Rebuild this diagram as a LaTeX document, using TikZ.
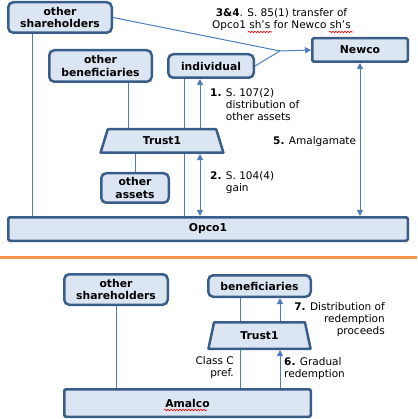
\documentclass[tikz,border=0pt]{standalone}
\usepackage{fontspec}
\setmainfont{DejaVu Sans}
\usetikzlibrary{arrows.meta, positioning, shapes.geometric, decorations.pathmorphing}
\definecolor{boxfill}{HTML}{DCE6F2}
\definecolor{boxline}{HTML}{385D8A}
\definecolor{linkline}{HTML}{4A7EBB}
\definecolor{divider}{HTML}{F79646}
\tikzset{
    chart/.style={x=1pt, y=-1pt, >={Triangle[width=6pt,length=6pt]}, font=\fontsize{10.5}{12}\selectfont},
    party/.style={draw=boxline, fill=boxfill, line width=2.5pt, rounded corners=5pt, align=center,
        font=\fontsize{10.8}{12.2}\selectfont\bfseries, inner sep=1pt, outer sep=1.25pt},
    company/.style={party, rounded corners=1.5pt},
    trust/.style={party, trapezium, trapezium stretches=true, rounded corners=0.5pt},
    link/.style={color=linkline, line width=1pt},
    flow/.style={link, ->},
    note/.style={inner sep=0pt, align=left},
    % orange rule between the two stages
    stage rule/.style={draw=divider, line width=3pt},
    % spell-check squiggle under a word
    spell/.style={draw=red, line width=0.6pt, decorate, decoration={snake, segment length=3pt, amplitude=0.8pt}},
}

\begin{document}
\begin{tikzpicture}[chart]
    \useasboundingbox (0,0) rectangle (417,419);

    % before the freeze
    \node[party, minimum width=103.5pt, minimum height=30.5pt] (osh1)    at (60,17.5)   {other\\shareholders};
    \node[party, minimum width=102.5pt, minimum height=31.5pt] (oben)    at (100.5,66)  {other\\beneficiaries};
    \node[party, minimum width=85.5pt, minimum height=23.5pt]  (indiv)   at (211,66)    {individual};
    \node[company, minimum width=95.5pt, minimum height=23.5pt] (newco)  at (360,50)    {Newco};
    \node[trust, trapezium left angle=75, trapezium right angle=75,
          minimum width=123.5pt, minimum height=23.5pt]        (trust1)  at (162,141)   {Trust1};
    \node[party, minimum width=67.5pt, minimum height=29.5pt]  (oassets) at (135,188)   {other\\assets};
    \node[company, minimum width=399.5pt, minimum height=23.5pt] (opco1) at (208,229)   {Opco1};
    \coordinate (merge) at (280,51);

    \draw[link] ([xshift=-28pt]osh1.south) -- ([xshift=-28pt]osh1.south |- opco1.north);
    \draw[link] (osh1.east) -- (merge);
    \draw[link] (indiv.east) -- (merge);
    \draw[flow] (merge) -- (newco.west);
    \draw[link] ([xshift=27.5pt]oben.south) -- ([xshift=27.5pt]oben.south |- trust1.north);
    \draw[link] ([xshift=-27pt]indiv.south) -- ([xshift=-27pt]indiv.south |- trust1.north);
    \draw[flow] ([xshift=-11pt]indiv.south |- trust1.north) -- ([xshift=-11pt]indiv.south);
    \draw[link] (oassets.north) -- (oassets.north |- trust1.south);
    \draw[link] ([xshift=22pt]trust1.south) -- ([xshift=22pt]trust1.south |- opco1.north);
    \draw[flow, <->] ([xshift=38pt]trust1.south) -- ([xshift=38pt]trust1.south |- opco1.north);
    \draw[flow, <->] (newco.south) -- (newco.south |- opco1.north);

    \node[note, align=center] (lab34) at (281.5,19.5) {\textbf{3\&4}. S. 85(1) transfer of\\Opco1 sh’s for Newco sh’s};
    \draw[spell] ([shift={(-33.5,12.5)}]lab34.center) -- ++(24,0);
    \draw[spell] ([shift={(47.5,12.5)}]lab34.center) -- ++(24,0);
    \node[note, anchor=west] (lab1) at (210,105) {\textbf{1.} S. 107(2)\\\hphantom{\textbf{1.} }distribution of\\\hphantom{\textbf{1.} }other assets};
    \node[note, anchor=west] (lab2) at (210,183) {\textbf{2.} S. 104(4)\\\hphantom{\textbf{2.} }gain};
    \node[note, anchor=west] (lab5) at (273,142) {\textbf{5.} Amalgamate};

    \draw[stage rule] (0,257) -- (417,257);

    % after the amalgamation
    \node[party, minimum width=103.5pt, minimum height=30.5pt] (osh2)   at (116,289.5) {other\\shareholders};
    \node[party, minimum width=102.5pt, minimum height=21.5pt] (bens)   at (259.5,286) {beneficiaries};
    \node[trust, trapezium left angle=76, trapezium right angle=76,
          minimum width=102.5pt, minimum height=26.5pt]        (trust2) at (259.5,335.5) {Trust1};
    \node[company, minimum width=246.5pt, minimum height=27.5pt] (amalco) at (187.5,403) {Amalco};
    \draw[spell] ([shift={(-23.5,7)}]amalco.center) -- ++(43,0);

    \draw[link] (osh2.south) -- (osh2.south |- amalco.north);
    \draw[link] ([xshift=-19.5pt]bens.south) -- ([xshift=-19.5pt]bens.south |- trust2.north);
    \draw[link] ([xshift=-19.5pt]trust2.south) -- ([xshift=-19.5pt]trust2.south |- amalco.north);
    \draw[flow] ([xshift=20.5pt]trust2.south |- amalco.north) -- ([xshift=20.5pt]trust2.south);
    \draw[flow] ([xshift=20.5pt]trust2.north) -- ([xshift=20.5pt]trust2.north |- bens.south);

    \node[note, anchor=east, align=right] (labc) at (234,368) {Class C\\pref.};
    \node[note, anchor=west] (lab6) at (284,369) {\textbf{6.} Gradual\\redemption};
    \node[note, anchor=east, align=right] (lab7) at (385,320) {\textbf{7.} Distribution of\\redemption\\proceeds};
\end{tikzpicture}
\end{document}
